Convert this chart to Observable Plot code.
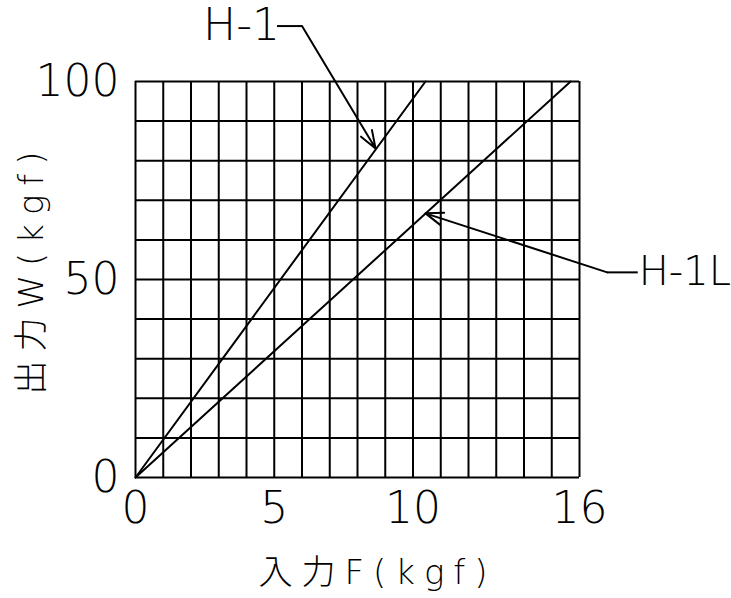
<!DOCTYPE html>
<html><head><meta charset="utf-8">
<script src="https://cdn.jsdelivr.net/npm/d3@7"></script>
<script src="https://cdn.jsdelivr.net/npm/@observablehq/plot@0.6"></script>
<style>body{margin:0;background:#fff}</style>
</head><body><div id="chart"></div>
<script>
const xTicks = [0, 5, 10, 16];
const yTicks = [0, 50, 100];
const xGridStep = 1;
const yGridStep = 10;
const seriesNames = ["H-1", "H-1L"];
const seriesEndX = [10.45, 15.68];
const seriesEndY = [100, 100];
const labelX = [5.1, 18.1];
const labelY = [114, 51.8];
const elbowX = [6.0, 17.0];
const tipX = [8.65, 10.45];
const tipY = [83.1, 66.7];
const xTitle = "入力F(kgf)";
const yTitle = "出力W(kgf)";

const FONT = "'DejaVu Sans', 'Noto Sans CJK JP', sans-serif";
const xGrid = d3.range(0, 16 + xGridStep / 2, xGridStep);
const yGrid = d3.range(0, 100 + yGridStep / 2, yGridStep);
const lines = seriesNames.flatMap((s, i) => [
  {s, x: 0, y: 0},
  {s, x: seriesEndX[i], y: seriesEndY[i]}
]);
const ann = seriesNames.map((s, i) => ({
  s, lx: labelX[i], ly: labelY[i], ex: elbowX[i], tx: tipX[i], ty: tipY[i]
}));

const chart = Plot.plot({
  width: 731, height: 598,
  marginLeft: 135, marginRight: 152, marginTop: 81, marginBottom: 121,
  x: {domain: [0, 16], axis: null},
  y: {domain: [0, 100], axis: null},
  style: {fontFamily: FONT, background: "#fff"},
  marks: [
    Plot.ruleX(xGrid, {x: d => d, y1: 0, y2: 100, stroke: "#000", strokeWidth: 2, strokeOpacity: 1}),
    Plot.ruleY(yGrid, {y: d => d, x1: 0, x2: 16, stroke: "#000", strokeWidth: 2, strokeOpacity: 1}),
    Plot.line(lines, {x: "x", y: "y", z: "s", stroke: "#000", strokeWidth: 2}),
    Plot.link(ann, {x1: "lx", y1: "ly", x2: "ex", y2: "ly", stroke: "#000", strokeWidth: 2}),
    Plot.arrow(ann, {x1: "ex", y1: "ly", x2: "tx", y2: "ty", stroke: "#000", strokeWidth: 2, headLength: 14, headAngle: 40}),
    Plot.text([ann[0]], {x: "lx", y: "ly", text: "s", textAnchor: "end", dx: 3, fontSize: 44, fontWeight: 200, fill: "#000"}),
    Plot.text([ann[1]], {x: "lx", y: "ly", text: "s", textAnchor: "start", dx: 1, fontSize: 40, fontWeight: 200, fill: "#000"}),
    Plot.text(xTicks, {x: d => d, frameAnchor: "bottom", lineAnchor: "middle", dy: 31, text: d => String(d), fontSize: 44, fontWeight: 200, fill: "#000"}),
    Plot.text(yTicks, {y: d => d, frameAnchor: "left", lineAnchor: "middle", dx: -16, textAnchor: "end", text: d => String(d), fontSize: 44, fontWeight: 200, fill: "#000"}),
    Plot.text([xTitle], {frameAnchor: "bottom", lineAnchor: "middle", textAnchor: "middle", dx: 20, dy: 96, text: d => d, fontSize: 34, fontWeight: 200, fill: "#000"}),
    Plot.text([yTitle], {frameAnchor: "left", lineAnchor: "middle", textAnchor: "middle", dx: -103, dy: -11, rotate: -90, text: d => d, fontSize: 34, fontWeight: 200, fill: "#000"})
  ]
});
d3.select(chart).selectAll("text").filter(function() {
  const t = this.textContent; return t === xTitle || t === yTitle;
}).style("letter-spacing", "9px");
document.getElementById("chart").appendChild(chart);
</script>
</body></html>
